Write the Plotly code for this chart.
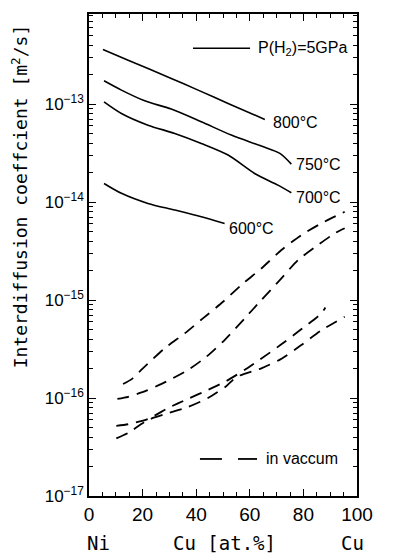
import plotly.graph_objects as go

# ---- data ----
x_800 = [5.2, 14.6, 30.7, 40.7, 51.9, 65.6]
d_800 = [3.61e-13, 2.81e-13, 1.83e-13, 1.39e-13, 1.016e-13, 6.98e-14]

x_750 = [5.6, 12.1, 20.8, 30.7, 41.9, 53.1, 64.3, 71.2, 75.5]
d_750 = [1.73e-13, 1.39e-13, 1.08e-13, 8.9e-14, 6.6e-14, 4.83e-14, 3.73e-14, 3.14e-14, 2.44e-14]

x_700 = [5.6, 12.1, 22.0, 32.0, 41.9, 51.9, 61.8, 70.5, 75.5]
d_700 = [1.055e-13, 8.03e-14, 6.1e-14, 5.02e-14, 3.97e-14, 3.02e-14, 1.96e-14, 1.49e-14, 1.245e-14]

x_600 = [5.6, 12.1, 22.0, 32.0, 41.9, 50.6]
d_600 = [1.55e-14, 1.23e-14, 9.7e-15, 8.3e-15, 7.08e-15, 6.05e-15]

x_906 = [12.7, 15.8, 20.1, 28.2, 35.7, 42.5, 50.0, 57.5, 64.3, 71.8, 79.2, 86.7, 95.4]
d_906 = [1.39e-16, 1.55e-16, 2.01e-16, 3.21e-16, 4.57e-16, 6.5e-16, 9.6e-16, 1.48e-15,
         2.1e-15, 3.24e-15, 4.6e-15, 6.07e-15, 7.96e-15]

x_866 = [10.6, 14.6, 21.4, 28.8, 36.9, 43.8, 50.6, 58.1, 64.3, 71.2, 78.0, 85.4, 91.7, 95.4]
d_866 = [9.8e-17, 1.03e-16, 1.19e-16, 1.47e-16, 1.93e-16, 2.64e-16, 3.91e-16, 6.5e-16,
         1.0e-15, 1.6e-15, 2.56e-15, 3.64e-15, 4.8e-15, 5.4e-15]

x_806 = [10.2, 14.6, 22.0, 29.5, 36.9, 44.4, 51.2, 58.0, 63.9, 71.4, 78.8, 86.7, 88.2]
d_806 = [5.2e-17, 5.4e-17, 6.1e-17, 7.9e-17, 9.8e-17, 1.21e-16, 1.49e-16, 1.93e-16,
         2.48e-16, 3.47e-16, 4.94e-16, 7.3e-16, 8.4e-16]

x_765 = [10.2, 14.6, 22.0, 29.5, 36.9, 44.4, 51.2, 55.0, 64.3, 71.4, 79.2, 86.3, 95.4]
d_765 = [3.88e-17, 4.4e-17, 5.97e-17, 7.0e-17, 8.1e-17, 1.0e-16, 1.32e-16, 1.64e-16,
         2.01e-16, 2.48e-16, 3.47e-16, 4.83e-16, 6.76e-16]

x_ticks = [0, 20, 40, 60, 80, 100]
y_exps = [-17, -16, -15, -14, -13]

ARIAL = "Liberation Sans, Arial, sans-serif"
MONO = "DejaVu Sans Mono, Liberation Mono, monospace"

fig = go.Figure()
solid = dict(color="black", width=1.6, shape="spline", smoothing=0.8)
dashed = dict(color="black", width=1.8, dash="12px,8px", shape="spline", smoothing=0.6)
for xs, ds in [(x_800, d_800), (x_750, d_750), (x_700, d_700), (x_600, d_600)]:
    fig.add_trace(go.Scatter(x=xs, y=ds, mode="lines", line=solid,
                             showlegend=False, hoverinfo="skip"))
for xs, ds in [(x_906, d_906), (x_866, d_866), (x_806, d_806), (x_765, d_765)]:
    fig.add_trace(go.Scatter(x=xs, y=ds, mode="lines", line=dashed,
                             showlegend=False, hoverinfo="skip"))

ann = []
def lab(text, x, y, size=16, font=ARIAL, xref="x", yref="y", xanchor="left"):
    ann.append(dict(text=text, x=x, y=y, xref=xref, yref=yref, xanchor=xanchor,
                    yanchor="middle", showarrow=False, borderpad=0,
                    font=dict(family=font, size=size, color="black")))

lab("800°C", 68.3, -13.184)
lab("750°C", 76.9, -13.612)
lab("700°C", 76.9, -13.949)
lab("600°C", 51.9, -14.265)
lab("906°C", 101.1, -14.051)
lab("866°C", 101.1, -14.316)
lab("806°C", 101.1, -14.898)
lab("765°C", 101.1, -15.204)
lab("P(H<sub>2</sub>)=5GPa", 62.8, -12.429, size=16)
lab("in vaccum", 65.7, -16.622, size=16)
lab("Ni", 3.7, -0.0975, size=19, font=MONO, yref="paper", xanchor="center")
lab("Cu [at.%]", 50.7, -0.0975, size=19, font=MONO, yref="paper", xanchor="center")
lab("Cu", 98.5, -0.0975, size=19, font=MONO, yref="paper", xanchor="center")
ann.append(dict(text="Interdiffusion coeffcient [m<sup>2</sup>/s]", textangle=-90,
                x=-0.257, y=0.622, xref="paper", yref="paper", xanchor="center",
                yanchor="middle", showarrow=False,
                font=dict(family=MONO, size=18, color="black")))

yl1 = 10 ** -12.429
yl2 = 10 ** -16.622
shapes = [
    dict(type="line", xref="x", yref="y", x0=38.8, x1=60.1, y0=yl1, y1=yl1,
         line=dict(color="black", width=1.6)),
    dict(type="line", xref="x", yref="y", x0=41.4, x1=49.6, y0=yl2, y1=yl2,
         line=dict(color="black", width=1.8)),
    dict(type="line", xref="x", yref="y", x0=55.6, x1=62.7, y0=yl2, y1=yl2,
         line=dict(color="black", width=1.8)),
]

fig.update_layout(
    width=404, height=554,
    margin=dict(l=89, r=47, t=14, b=58),
    paper_bgcolor="white", plot_bgcolor="white",
    annotations=ann, shapes=shapes,
    showlegend=False,
)
fig.update_xaxes(
    range=[0, 100], tickvals=x_ticks, ticktext=[str(v) for v in x_ticks],
    ticks="inside", ticklen=7, tickwidth=1.2, tickcolor="black",
    minor=dict(dtick=5, ticks="inside", ticklen=4, tickwidth=1, tickcolor="black"),
    showline=True, linecolor="black", linewidth=1.5, mirror="allticks",
    showgrid=False, zeroline=False,
    tickfont=dict(family=ARIAL, size=19, color="black"),
)
fig.update_yaxes(
    type="log", range=[-17, -12.08],
    tickvals=[10.0 ** e for e in y_exps],
    ticktext=["10<sup>\u2212%d</sup>" % (-e) for e in y_exps],
    ticks="inside", ticklen=7, tickwidth=1.2, tickcolor="black",
    minor=dict(ticks="inside", ticklen=4, tickwidth=1, tickcolor="black", dtick="D1"),
    showline=True, linecolor="black", linewidth=1.5, mirror="allticks",
    showgrid=False, zeroline=False,
    tickfont=dict(family=ARIAL, size=17, color="black"),
)

fig.write_html("out.html")
